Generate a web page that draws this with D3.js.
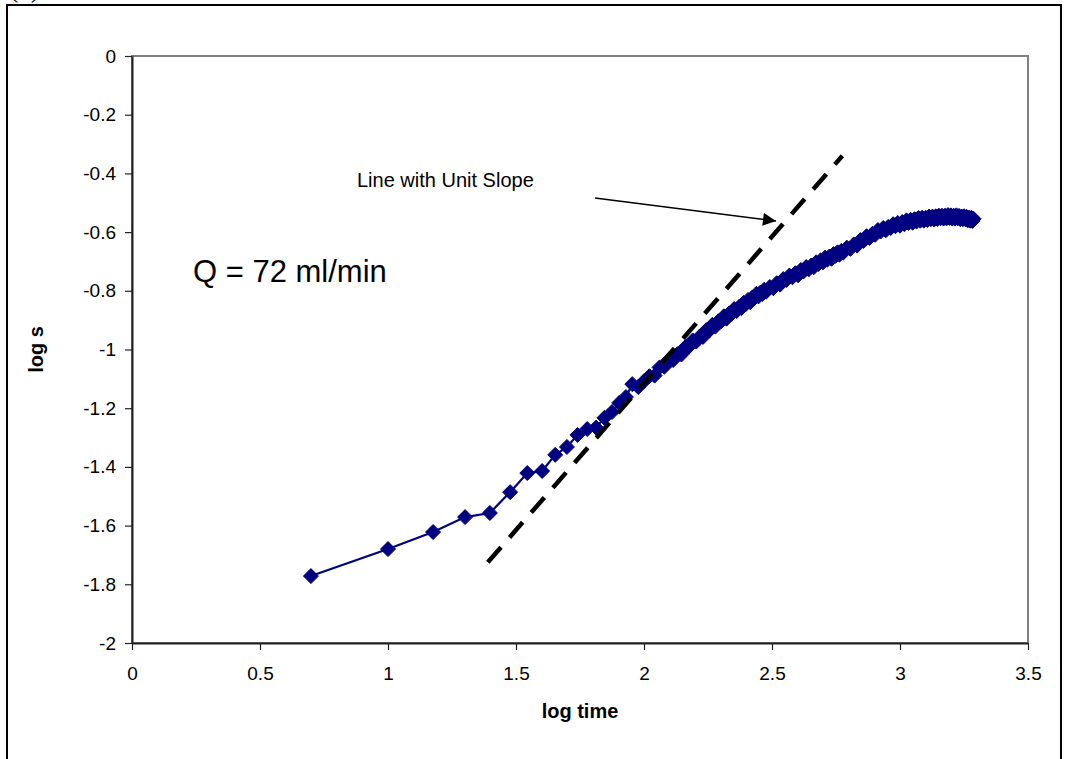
<!DOCTYPE html>
<html>
<head>
<meta charset="utf-8">
<script src="https://cdn.jsdelivr.net/npm/d3@7"></script>
<style>
  html, body { margin: 0; padding: 0; background: #fff; }
  svg { display: block; font-family: "Liberation Sans", Arial, sans-serif; }
</style>
</head>
<body>
<svg id="chart" width="1066" height="759"></svg>
<script>
// Drawdown record: elapsed time (s) and log of drawdown s
const timeSec = [
  5, 10, 15, 20, 25, 30, 35, 40, 45, 50, 55, 60, 65, 70, 75, 80, 85, 90, 95, 100,
  105, 110, 115, 120, 125, 130, 135, 140, 145, 150, 155, 160, 165, 170, 175, 180, 185, 190, 195, 200,
  205, 210, 215, 220, 225, 230, 235, 240, 245, 250, 255, 260, 265, 270, 275, 280, 285, 290, 295, 300,
  310, 320, 330, 340, 350, 360, 370, 380, 390, 400, 410, 420, 430, 440, 450,
  460, 470, 480, 490, 500, 510, 520, 530, 540, 550, 560, 570, 580, 590, 600,
  620, 640, 660, 680, 700, 720, 740, 760, 780, 800, 820, 840, 860, 880, 900,
  920, 940, 960, 980, 1000, 1020, 1040, 1060, 1080, 1100, 1120, 1140, 1160, 1180, 1200,
  1220, 1240, 1260, 1280, 1300, 1320, 1340, 1360, 1380, 1400, 1420, 1440, 1460, 1480, 1500,
  1520, 1540, 1560, 1580, 1600, 1620, 1640, 1660, 1680, 1700, 1720, 1740, 1760, 1780, 1800,
  1820, 1840, 1860, 1880, 1900, 1920, 1940
];
const logS = [
  -1.772, -1.680, -1.622, -1.571, -1.557, -1.486, -1.421, -1.414, -1.359, -1.332,
  -1.291, -1.271, -1.266, -1.233, -1.213, -1.182, -1.162, -1.118, -1.128, -1.108,
  -1.091, -1.089, -1.061, -1.059, -1.035, -1.036, -1.016, -1.017, -0.992, -0.990,
  -0.969, -0.973, -0.956, -0.957, -0.934, -0.935, -0.916, -0.922, -0.904, -0.904,
  -0.887, -0.895, -0.877, -0.878, -0.862, -0.869, -0.855, -0.859, -0.841, -0.845,
  -0.831, -0.839, -0.823, -0.825, -0.810, -0.819, -0.806, -0.811, -0.796, -0.803,
  -0.787, -0.791, -0.774, -0.779, -0.760, -0.763, -0.748, -0.754, -0.740, -0.747,
  -0.729, -0.734, -0.719, -0.727, -0.714, -0.720, -0.703, -0.709, -0.696, -0.703,
  -0.687, -0.694, -0.683, -0.691, -0.675, -0.681, -0.669, -0.677, -0.664, -0.670,
  -0.653, -0.657, -0.642, -0.646, -0.627, -0.630, -0.614, -0.620, -0.606, -0.609,
  -0.593, -0.598, -0.586, -0.594, -0.582, -0.586, -0.573, -0.580, -0.569, -0.578,
  -0.566, -0.573, -0.560, -0.569, -0.558, -0.568, -0.556, -0.564, -0.552, -0.561,
  -0.551, -0.561, -0.551, -0.559, -0.547, -0.556, -0.547, -0.557, -0.546, -0.555,
  -0.544, -0.553, -0.544, -0.554, -0.544, -0.553, -0.542, -0.552, -0.543, -0.554,
  -0.544, -0.554, -0.543, -0.553, -0.545, -0.556, -0.547, -0.556, -0.546, -0.556,
  -0.548, -0.560, -0.551, -0.561, -0.551, -0.562, -0.555
];

// Reference line of unit slope (log time, log s) end points
const unitSlopeLine = [[1.39, -1.725], [2.775, -0.34]];

// Axis ticks
const xTicks = [0, 0.5, 1, 1.5, 2, 2.5, 3, 3.5];
const xTickLabels = ["0", "0.5", "1", "1.5", "2", "2.5", "3", "3.5"];
const yTicks = [0, -0.2, -0.4, -0.6, -0.8, -1, -1.2, -1.4, -1.6, -1.8, -2];
const yTickLabels = ["0", "-0.2", "-0.4", "-0.6", "-0.8", "-1", "-1.2", "-1.4", "-1.6", "-1.8", "-2"];

const svg = d3.select("#chart");
const plot = { left: 132, right: 1028, top: 56, bottom: 643 };

const x = d3.scaleLinear().domain([0, 3.5]).range([plot.left, plot.right]);
const y = d3.scaleLinear().domain([-2, 0]).range([plot.bottom, plot.top]);

// outer frame
svg.append("rect")
  .attr("x", 7).attr("y", 5).attr("width", 1054).attr("height", 800)
  .attr("fill", "none").attr("stroke", "#000").attr("stroke-width", 2);

svg.append("text")
  .attr("x", 9).attr("y", -3)
  .attr("font-family", "'Liberation Serif', 'Times New Roman', serif")
  .attr("font-size", 28)
  .text("(a)");

// plot area border
svg.append("rect")
  .attr("x", plot.left).attr("y", plot.top)
  .attr("width", plot.right - plot.left).attr("height", plot.bottom - plot.top)
  .attr("fill", "none").attr("stroke", "#808080").attr("stroke-width", 2);

// axes
const xAxis = d3.axisBottom(x)
  .tickValues(xTicks)
  .tickFormat((d, i) => xTickLabels[i])
  .tickSize(7).tickSizeOuter(0).tickPadding(17);
const yAxis = d3.axisLeft(y)
  .tickValues(yTicks)
  .tickFormat((d, i) => yTickLabels[i])
  .tickSize(7).tickSizeOuter(0).tickPadding(9);

const gx = svg.append("g").attr("transform", `translate(0,${plot.bottom})`).call(xAxis);
const gy = svg.append("g").attr("transform", `translate(${plot.left},0)`).call(yAxis);
[gx, gy].forEach(g => {
  g.selectAll("path.domain").attr("stroke", "#222").attr("stroke-width", 2);
  g.selectAll(".tick line").attr("stroke", "#222").attr("stroke-width", 1.2);
  g.selectAll(".tick text")
    .attr("font-family", "'Liberation Sans', Arial, sans-serif")
    .attr("font-size", 19).attr("fill", "#000");
});

// axis titles
svg.append("text")
  .attr("x", (plot.left + plot.right) / 2).attr("y", 718)
  .attr("text-anchor", "middle")
  .attr("font-size", 20).attr("font-weight", "bold")
  .text("log time");
svg.append("text")
  .attr("transform", `translate(43,${(plot.top + plot.bottom) / 2}) rotate(-90)`)
  .attr("text-anchor", "middle")
  .attr("font-size", 20).attr("font-weight", "bold")
  .text("log s");

// data series
const points = timeSec.map((t, i) => ({ lt: Math.log10(t), ls: logS[i] }));
const navy = "#000080";

svg.append("path")
  .datum(points)
  .attr("fill", "none").attr("stroke", navy).attr("stroke-width", 2.2)
  .attr("d", d3.line().x(d => x(d.lt)).y(d => y(d.ls)));

const r = 7.5;
svg.append("g").selectAll("path")
  .data(points)
  .join("path")
  .attr("transform", d => `translate(${x(d.lt)},${y(d.ls)})`)
  .attr("d", `M0,${-r}L${r},0L0,${r}L${-r},0Z`)
  .attr("fill", navy).attr("stroke", navy).attr("stroke-width", 1)
  .attr("stroke-linejoin", "round");

// unit slope line
svg.append("line")
  .attr("x1", x(unitSlopeLine[0][0])).attr("y1", y(unitSlopeLine[0][1]))
  .attr("x2", x(unitSlopeLine[1][0])).attr("y2", y(unitSlopeLine[1][1]))
  .attr("stroke", "#000").attr("stroke-width", 4.5)
  .attr("stroke-dasharray", "20,13");

// annotations
svg.append("text")
  .attr("x", 193).attr("y", 282)
  .attr("font-size", 31)
  .text("Q = 72 ml/min");

svg.append("text")
  .attr("x", 357).attr("y", 187)
  .attr("font-size", 20)
  .text("Line with Unit Slope");

svg.append("defs").append("marker")
  .attr("id", "arrowhead")
  .attr("viewBox", "0 0 10 10")
  .attr("refX", 10).attr("refY", 5)
  .attr("markerUnits", "userSpaceOnUse")
  .attr("markerWidth", 17).attr("markerHeight", 13)
  .attr("orient", "auto")
  .append("path").attr("d", "M0,0L10,5L0,10Z").attr("fill", "#000");

svg.append("line")
  .attr("x1", 595).attr("y1", 198).attr("x2", 776).attr("y2", 221)
  .attr("stroke", "#000").attr("stroke-width", 1.5)
  .attr("marker-end", "url(#arrowhead)");
</script>
</body>
</html>
